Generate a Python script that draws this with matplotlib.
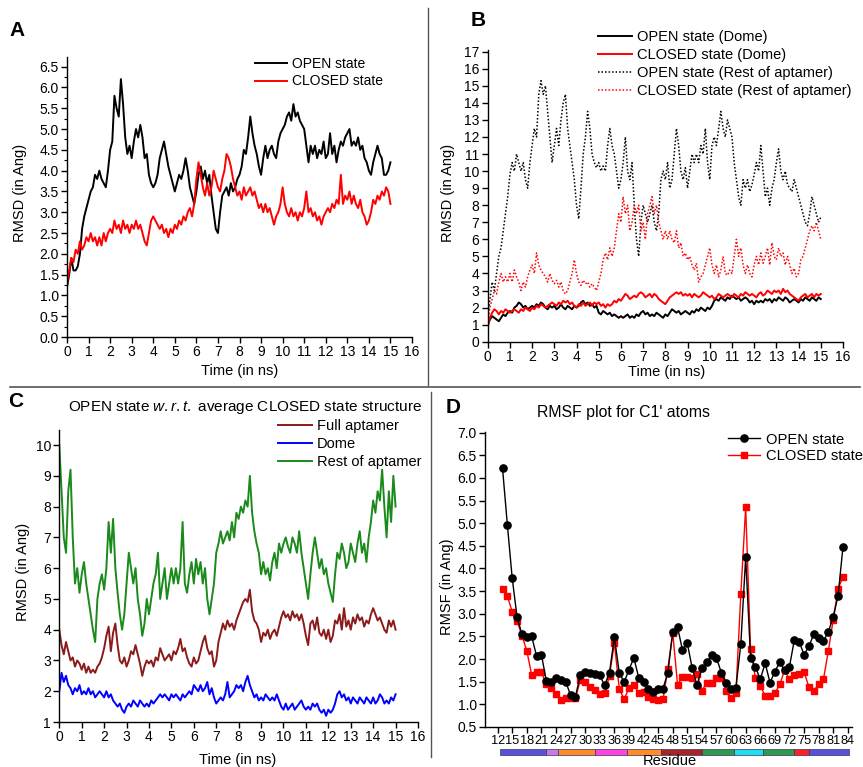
import matplotlib
matplotlib.use("Agg")
import matplotlib.pyplot as plt
from matplotlib.patches import Rectangle
from matplotlib.lines import Line2D
import numpy as np

# ---- data ----
TIME_NS = np.round(np.arange(0, 15.05, 0.1), 1)   # 151 samples, 0..15 ns

A_OPEN = [
    1.2, 1.5, 1.9, 1.6, 1.6, 1.7, 2.0, 2.6, 2.9, 3.1,
    3.3, 3.5, 3.6, 3.9, 3.8, 4.0, 3.8, 3.7, 3.6, 4.0,
    4.5, 4.7, 5.8, 5.5, 5.3, 6.2, 5.6, 4.8, 4.4, 4.6,
    4.3, 4.7, 5.0, 4.8, 5.1, 4.8, 4.3, 4.4, 3.9, 3.7,
    3.6, 3.7, 3.9, 4.3, 4.5, 4.7, 4.4, 4.1, 3.9, 3.7,
    3.5, 3.7, 3.9, 3.8, 4.0, 4.3, 4.0, 3.6, 3.4, 3.2,
    3.5, 3.9, 4.1, 3.8, 4.0, 3.7, 3.9, 3.4, 3.0, 2.6,
    2.5, 3.0, 3.4, 3.5, 3.6, 3.4, 3.7, 3.5, 3.6, 3.8,
    3.9, 4.1, 4.5, 4.4, 4.8, 5.3, 4.9, 4.6, 4.4, 4.1,
    3.9, 4.3, 4.6, 4.3, 4.5, 4.6, 4.4, 4.3, 4.7, 4.9,
    5.0, 5.1, 5.3, 5.4, 5.2, 5.6, 5.3, 5.4, 5.2, 5.1,
    5.0, 4.6, 4.2, 4.6, 4.4, 4.6, 4.3, 4.5, 4.4, 4.7,
    4.3, 4.4, 4.9, 4.4, 4.6, 4.2, 4.5, 4.7, 4.6, 4.8,
    4.9, 5.0, 4.6, 4.7, 4.6, 4.8, 4.5, 4.6, 4.3, 4.2,
    4.0, 3.9, 4.2, 4.4, 4.6, 4.4, 4.3, 3.9, 3.9, 4.0,
    4.2,
]
A_CLOSED = [
    1.3, 1.6, 1.9, 1.8, 2.1, 2.0, 2.3, 2.1, 2.2, 2.4,
    2.3, 2.5, 2.3, 2.4, 2.2, 2.4, 2.2, 2.5, 2.3, 2.5,
    2.6, 2.5, 2.8, 2.6, 2.7, 2.5, 2.8, 2.6, 2.7, 2.5,
    2.7, 2.6, 2.8, 2.6, 2.7, 2.5, 2.3, 2.2, 2.5, 2.8,
    2.9, 2.8, 2.7, 2.6, 2.7, 2.5, 2.6, 2.4, 2.6, 2.5,
    2.7, 2.6, 2.8, 2.7, 2.9, 2.8, 3.0, 3.1, 2.9, 3.2,
    3.8, 4.2, 3.9, 3.6, 3.4, 3.7, 3.4, 3.6, 4.0, 3.8,
    3.6, 3.5, 3.8, 4.0, 4.4, 4.3, 4.1, 3.8, 3.6, 3.4,
    3.5, 3.3, 3.6, 3.4, 3.5, 3.6, 3.4, 3.5, 3.3, 3.1,
    3.2, 3.0, 3.2, 3.0, 3.1, 2.9, 2.7, 2.9, 3.0, 3.2,
    3.6, 3.2, 3.0, 2.9, 3.1, 2.9, 3.0, 2.8, 3.0, 2.9,
    3.1, 3.5, 3.0, 3.1, 2.9, 3.0, 2.8, 2.9, 2.7, 2.9,
    3.0, 3.1, 3.0, 3.2, 3.1, 3.3, 3.2, 3.9, 3.2, 3.4,
    3.3, 3.5, 3.2, 3.4, 3.2, 3.1, 3.3, 3.0, 2.9, 2.7,
    2.8, 3.0, 3.3, 3.2, 3.4, 3.3, 3.5, 3.4, 3.6, 3.5,
    3.2,
]

B_OPEN_DOME = [
    1.0, 1.3, 1.5, 1.4, 1.3, 1.2, 1.4, 1.6, 1.5, 1.7,
    1.8, 1.7, 2.0, 2.1, 2.3, 2.2, 2.0, 2.1, 1.9, 2.0,
    2.1, 2.0, 2.2, 2.1, 2.3, 2.2, 2.0, 1.9, 2.1, 2.0,
    2.1, 1.9, 2.0, 2.2, 2.0, 1.9, 2.1, 2.0, 1.9, 2.1,
    2.0, 2.1, 2.3, 2.4, 2.2, 2.3, 2.1, 2.2, 2.0, 2.1,
    1.7, 1.6, 1.8, 1.7, 1.6, 1.7, 1.5, 1.6, 1.5, 1.4,
    1.5, 1.4, 1.5, 1.6, 1.4, 1.5, 1.4, 1.6, 1.5, 1.7,
    1.8, 1.6, 1.7, 1.5, 1.6, 1.5, 1.7, 1.6, 1.5, 1.4,
    1.6, 1.5, 1.7, 1.9, 1.8, 1.7, 1.8, 1.6, 1.7, 1.8,
    1.7, 1.6, 1.8, 1.7, 1.9, 1.8, 2.0, 1.9, 1.8, 2.0,
    1.9, 2.1, 2.4, 2.5, 2.4, 2.6, 2.5, 2.4, 2.6, 2.5,
    2.7, 2.6, 2.5, 2.6, 2.4, 2.5, 2.6, 2.5, 2.3, 2.4,
    2.2, 2.4, 2.3, 2.4, 2.3, 2.5, 2.4, 2.5, 2.3, 2.5,
    2.4, 2.6, 2.5, 2.4, 2.6, 2.5, 2.3, 2.4, 2.5, 2.4,
    2.3, 2.5, 2.4, 2.6, 2.5, 2.4, 2.6, 2.5, 2.4, 2.6,
    2.5,
]
B_CLOSED_DOME = [
    0.8, 1.4, 1.7, 1.9, 1.8, 1.6, 1.8, 1.7, 1.9, 1.8,
    1.7, 1.8, 1.9, 1.8, 1.7, 1.9, 1.8, 2.0, 1.9, 1.8,
    2.0, 1.9, 2.1, 2.0, 2.2, 2.1, 2.0, 2.1, 2.2, 2.3,
    2.2, 2.1, 2.3, 2.2, 2.4, 2.3, 2.4, 2.2, 2.3, 2.1,
    2.0, 2.2, 2.1, 2.3, 2.1, 2.2, 2.3, 2.1, 2.3, 2.2,
    2.3, 2.1, 2.2, 2.0, 2.2, 2.1, 2.2, 2.4, 2.3, 2.5,
    2.4, 2.6, 2.8, 2.7, 2.5, 2.6, 2.7, 2.6, 2.8, 2.9,
    2.8, 2.6, 2.7, 2.8, 2.6, 2.8, 2.7, 2.5, 2.4, 2.3,
    2.2, 2.4, 2.6, 2.7, 2.8, 2.9, 2.8, 2.9, 2.7, 2.8,
    2.7, 2.8, 2.6, 2.8, 2.7, 2.6, 2.7, 2.9, 2.8, 2.7,
    2.6, 2.7, 2.5, 2.6, 2.8, 2.7, 2.6, 2.7, 2.8, 2.7,
    2.6, 2.8, 2.7, 2.6, 2.8, 2.7, 2.9, 2.8, 2.7, 2.8,
    2.7, 2.6, 2.8, 2.9, 2.7, 2.8, 3.0, 2.9, 2.8, 3.0,
    2.9, 3.0, 2.8, 3.1, 2.9, 3.0, 2.8, 2.7, 2.6, 2.5,
    2.4, 2.6, 2.7, 2.8, 2.6, 2.7, 2.8, 2.6, 2.8, 2.7,
    2.8,
]
B_OPEN_REST = [
    1.5, 2.5, 3.5, 3.0, 4.0, 5.0, 5.5, 6.5, 7.5, 8.5,
    9.8, 10.5, 10.0, 11.0, 10.5, 10.0, 10.5, 9.5, 9.0, 10.5,
    11.5, 12.5, 12.0, 14.5, 15.3, 14.5, 15.0, 13.5, 12.0, 10.5,
    11.5, 12.5, 11.5, 13.0, 14.0, 14.5, 12.5, 11.5, 10.5, 9.5,
    8.0, 7.2, 9.0, 11.0, 12.0, 13.5, 12.5, 11.0, 10.5, 10.2,
    10.5, 10.0, 10.3, 10.0, 11.5, 12.5, 11.5, 11.0, 10.0, 9.0,
    9.5, 10.5, 12.0, 10.0, 9.5, 10.5, 8.0, 6.0, 5.0, 7.0,
    8.0, 7.5, 7.0, 7.5, 8.0, 7.0, 6.5, 7.5, 9.5, 10.0,
    9.5, 10.5, 9.0, 9.5, 11.0, 12.5, 11.5, 10.0, 9.5, 10.2,
    9.0, 10.0, 11.0, 10.5, 11.0, 10.5, 11.5, 11.0, 12.5, 10.5,
    9.5, 11.5, 12.0, 11.5, 12.5, 13.5, 12.5, 12.0, 13.0, 12.5,
    12.0, 10.5, 9.5, 8.5, 8.0, 9.5, 9.0, 9.5, 8.8, 9.2,
    9.8, 10.5, 10.0, 11.5, 10.0, 8.5, 9.0, 8.0, 9.0, 9.5,
    10.5, 11.3, 10.0, 9.5, 10.0, 9.2, 9.0, 8.8, 9.5, 9.0,
    8.5, 8.0, 7.5, 7.0, 6.8, 7.5, 8.5, 8.0, 7.5, 7.0,
    7.3,
]
B_CLOSED_REST = [
    1.0, 2.0, 2.5, 3.0, 2.8, 3.5, 4.0, 3.5, 3.8, 3.5,
    4.0, 3.5, 4.2, 3.8, 3.5, 3.0, 3.5, 3.2, 3.8, 4.2,
    4.5, 4.0, 5.2, 4.5, 4.2, 4.0, 3.8, 3.5, 4.0, 3.6,
    3.4, 3.6, 3.2, 3.5, 3.0, 2.8, 3.0, 3.5, 4.0, 4.8,
    4.0, 3.5, 3.3, 3.6, 3.4, 3.5, 3.2, 3.4, 3.2, 3.0,
    3.5, 4.0, 4.8, 5.2, 4.8, 5.5, 5.0, 5.5, 6.5, 7.5,
    7.0, 8.5, 7.5, 8.0, 6.5, 7.0, 8.0, 7.5, 8.0, 6.5,
    7.0, 6.0, 7.5, 8.0, 8.5, 7.5, 8.0, 7.0, 6.5, 6.0,
    6.5, 6.0, 6.5, 6.0, 5.8, 6.5, 5.5, 5.8, 5.0, 5.2,
    4.8, 5.0, 4.5, 4.2, 4.6, 3.5, 3.8, 4.0, 4.5, 5.0,
    5.5, 4.5, 4.0, 4.5, 3.8, 4.2, 5.0, 4.0, 3.9, 4.2,
    4.0, 5.0, 6.0, 5.0, 5.5, 4.5, 4.0, 4.5, 4.0, 3.8,
    4.5, 5.0, 4.5, 5.2, 4.6, 5.0, 5.5, 4.5, 5.8, 5.0,
    4.8, 5.5, 5.0, 5.2, 4.5, 5.0, 4.5, 4.0, 4.3, 3.8,
    4.0, 4.8, 5.0, 5.5, 6.0, 6.5, 6.8, 6.5, 7.0, 6.5,
    6.0,
]

C_FULL = [
    4.0, 3.5, 3.2, 3.6, 3.3, 3.0, 3.1, 2.8, 3.0, 2.9,
    2.7, 2.9, 2.6, 2.8, 2.6, 2.7, 2.6, 2.8, 2.9, 3.1,
    3.4, 3.8, 4.1, 3.3, 3.9, 4.2, 3.5, 3.0, 2.9, 3.1,
    2.8, 3.0, 3.3, 3.2, 3.5, 3.2, 2.9, 2.5, 2.8, 3.0,
    2.9, 3.0, 2.8, 3.1, 3.0, 3.4, 3.2, 3.0, 3.1, 3.2,
    3.0, 3.3, 3.2, 3.4, 3.7, 3.3, 3.4, 3.1, 2.9, 2.8,
    3.1, 2.9, 3.0, 3.3, 3.6, 3.8, 3.4, 3.2, 3.3, 2.8,
    3.0, 3.6, 3.9, 4.2, 4.0, 4.3, 4.1, 4.2, 4.0, 4.3,
    4.5, 4.7, 4.9, 5.0, 4.9, 5.3, 4.6, 4.3, 4.2, 4.0,
    3.6, 3.9, 3.8, 4.0, 3.7, 3.9, 4.0, 3.8, 4.1, 4.4,
    4.6, 4.4, 4.5, 4.3, 4.6, 4.4, 4.5, 4.3, 4.5, 4.2,
    3.8, 3.5, 4.2, 4.3, 4.0, 4.4, 3.9, 3.8, 4.0, 3.7,
    4.0, 3.6, 3.8, 4.3, 4.2, 4.5, 4.0, 4.7, 4.1, 4.3,
    4.0, 4.4, 4.2, 4.5, 4.3, 4.4, 4.1, 4.3, 4.2, 4.5,
    4.7, 4.5, 4.3, 4.4, 4.2, 4.0, 3.9, 4.3, 4.1, 4.3,
    4.0,
]
C_DOME = [
    2.0, 2.6, 2.3, 2.5, 2.2, 2.1, 1.9, 2.1, 2.0, 2.2,
    1.9, 2.0, 1.9, 2.1, 1.9, 2.0, 1.8, 1.9, 2.0, 1.9,
    1.8, 2.0, 1.8, 1.9, 1.7, 1.6, 1.5, 1.6, 1.4, 1.3,
    1.5, 1.6, 1.5, 1.7, 1.6, 1.5, 1.7, 1.6, 1.5, 1.6,
    1.5, 1.7, 1.6, 1.7, 1.8, 1.9, 1.8, 1.9, 1.8, 1.7,
    1.9, 1.8, 1.9, 1.8, 1.7, 1.9, 1.8, 1.9, 2.0, 1.9,
    2.2, 2.1, 2.0, 2.2, 2.0, 2.1, 2.3, 1.9, 2.1, 1.8,
    1.6, 1.7, 1.8, 1.7, 1.9, 2.3, 1.8, 1.9, 2.0, 2.2,
    2.1, 2.2, 2.0, 2.3, 2.5, 2.2, 2.0, 1.8, 1.9, 1.7,
    1.8, 1.7, 1.9, 1.8, 1.7, 1.8, 1.7, 1.9, 1.7, 1.5,
    1.4, 1.6, 1.4, 1.5, 1.6, 1.4, 1.5, 1.6, 1.7, 1.5,
    1.4, 1.5, 1.4, 1.6, 1.5, 1.6, 1.4, 1.3, 1.4, 1.2,
    1.4, 1.3, 1.4, 1.6, 1.9, 2.0, 1.8, 1.9, 1.7, 1.8,
    1.6, 1.8, 1.7, 1.6, 1.8, 1.7, 1.6, 1.8, 1.7, 1.6,
    1.8, 1.6, 1.7, 1.9, 1.8, 1.6, 1.7, 1.6, 1.8, 1.7,
    1.9,
]
C_REST = [
    10.0, 8.5, 7.0, 6.5, 8.5, 9.2, 7.0, 5.5, 6.0, 5.2,
    5.8, 6.2, 5.5, 5.0, 4.5, 4.0, 3.6, 5.0, 5.5, 5.8,
    5.3, 6.0, 7.5, 6.5, 7.6, 6.0, 5.2, 4.5, 4.0, 4.5,
    5.5, 6.5, 6.0, 5.5, 6.0, 5.0, 4.5, 3.8, 4.2, 5.0,
    4.5, 5.0, 5.5, 5.8, 6.5, 5.0, 5.5, 6.0, 5.0, 5.5,
    6.0, 5.5, 6.0, 5.5, 6.0, 7.5, 5.5, 5.2, 5.8, 6.2,
    5.5, 6.3, 5.8, 6.2, 5.5, 6.0, 5.0, 4.5, 5.0, 5.5,
    6.5, 6.8, 7.2, 6.8, 7.0, 7.2, 6.9, 7.5, 7.0, 7.8,
    7.6, 8.0, 7.8, 8.2, 8.0, 9.0, 7.8, 7.2, 6.8, 6.5,
    5.8, 6.2, 5.8, 6.0, 5.6, 6.2, 6.5, 6.0, 6.8, 6.5,
    6.8, 7.0, 6.7, 6.5, 7.0, 6.8, 6.5, 7.2, 6.5, 6.0,
    5.5, 5.0, 5.8, 6.5, 7.0, 6.5, 6.0, 6.3, 5.8, 6.0,
    5.5, 5.2, 4.9, 5.8, 6.5, 6.3, 6.8, 6.5, 6.0, 6.2,
    6.8, 6.5, 6.2, 6.8, 7.2, 6.5, 6.8, 6.2, 7.0, 7.5,
    8.2, 7.8, 8.5, 8.2, 9.2, 8.0, 7.0, 8.5, 7.5, 9.0,
    8.0,
]

RESIDUES = list(range(13, 84))
D_OPEN = [
    6.22, 4.96, 3.78, 2.92, 2.55, 2.48, 2.50, 2.07, 2.10, 1.52,
    1.49, 1.59, 1.54, 1.50, 1.20, 1.17, 1.65, 1.72, 1.70, 1.68,
    1.64, 1.42, 1.70, 2.49, 1.70, 1.49, 1.76, 2.03, 1.59, 1.50,
    1.35, 1.28, 1.33, 1.35, 1.70, 2.60, 2.70, 2.20, 2.35, 1.80,
    1.42, 1.80, 1.93, 2.08, 2.02, 1.70, 1.47, 1.35, 1.37, 2.33,
    4.25, 2.03, 1.83, 1.55, 1.91, 1.48, 1.72, 1.93, 1.75, 1.83,
    2.42, 2.38, 2.10, 2.28, 2.55, 2.47, 2.40, 2.60, 2.93, 3.40,
    4.47,
]
D_CLOSED = [
    3.54, 3.39, 3.04, 2.84, 2.52, 2.18, 1.65, 1.72, 1.71, 1.44,
    1.37, 1.22, 1.10, 1.14, 1.13, 1.13, 1.54, 1.49, 1.38, 1.32,
    1.22, 1.24, 1.63, 2.36, 1.35, 1.11, 1.36, 1.42, 1.26, 1.28,
    1.17, 1.11, 1.10, 1.11, 1.79, 2.58, 1.43, 1.61, 1.61, 1.59,
    1.67, 1.30, 1.48, 1.48, 1.59, 1.58, 1.30, 1.13, 1.26, 3.43,
    5.35, 2.23, 1.58, 1.41, 1.19, 1.19, 1.24, 1.44, 1.75, 1.56,
    1.64, 1.68, 1.71, 1.39, 1.30, 1.44, 1.56, 2.18, 2.87, 3.55,
    3.81,
]
D_XTICKS = list(range(12, 85, 3))

# secondary-structure bar under the residue axis
SEG_START = [12.5, 22.0, 24.5, 32.0, 38.5, 45.5, 54.0, 60.5, 66.5, 73.0, 76.0]
SEG_END = [22.0, 24.5, 32.0, 38.5, 45.5, 54.0, 60.5, 66.5, 73.0, 76.0, 84.3]
SEG_COLOR = ["#5a52d6", "#cc77ee", "#ff8c26", "#ff44dd", "#ff8c26", "#a82424",
             "#2e9a4a", "#22ddee", "#2e9a4a", "#ff2020", "#5a52d6"]

# ---- style ----
W, H = 863, 767
plt.rcParams["font.family"] = ["Liberation Sans", "DejaVu Sans"]
plt.rcParams["mathtext.fontset"] = "custom"
plt.rcParams["mathtext.rm"] = "Liberation Sans"
plt.rcParams["mathtext.it"] = "Liberation Sans:italic"

C_RED = "#ff0000"
C_BROWN = "#8b1a1a"
C_BLUE = "#0000ff"
C_GREEN = "#1a8a1a"
C_SEP = "#555555"
LW = 1.4


def fx(x):
    return x / W


def fy(y):
    return 1 - y / H


def box(l, t, r, b):
    return [fx(l), fy(b), (r - l) / W, (b - t) / H]


fig = plt.figure(figsize=(W / 100, H / 100), dpi=100)


def style(ax):
    for s in ("top", "right"):
        ax.spines[s].set_visible(False)
    for s in ("left", "bottom"):
        ax.spines[s].set_linewidth(1.0)
    ax.tick_params(direction="out", length=4, width=1, labelsize=10, pad=2)
    ax.tick_params(which="minor", direction="out", length=2.5, width=0.8)


def labels(ax, xlab, xpos, ylab, ypos):
    ax.set_xlabel(xlab, fontsize=10.5, va="center", ha="center")
    ax.xaxis.set_label_coords(fx(xpos[0]), fy(xpos[1]), transform=fig.transFigure)
    ax.set_ylabel(ylab, fontsize=10.5, va="center", ha="center")
    ax.yaxis.set_label_coords(fx(ypos[0]), fy(ypos[1]), transform=fig.transFigure)


def legend(ax, x0, ytop, size, hl, spacing, handles=None, names=None):
    args = (handles, names) if handles else ()
    ax.legend(*args, loc="upper left", bbox_to_anchor=(fx(x0), fy(ytop)),
              bbox_transform=fig.transFigure, frameon=False, fontsize=size,
              handlelength=hl, handletextpad=0.35, labelspacing=spacing,
              borderpad=0, borderaxespad=0)


# ---- A ----
axA = fig.add_axes(box(67, 56.7, 412, 337))
axA.plot(TIME_NS, A_OPEN, color="black", lw=LW, label="OPEN state")
axA.plot(TIME_NS, A_CLOSED, color=C_RED, lw=LW, label="CLOSED state")
axA.set_xlim(0, 16)
axA.set_ylim(0, 6.74)
axA.set_xticks(range(0, 17))
axA.set_yticks(np.arange(0, 6.6, 0.5))
axA.set_yticks(np.arange(0, 6.74, 0.25), minor=True)
axA.yaxis.set_major_formatter(matplotlib.ticker.FormatStrFormatter("%.1f"))
style(axA)
labels(axA, "Time (in ns)", (240, 371), "RMSD (in Ang)", (20, 193))
legend(axA, 255, 56.5, 10, 2.3, 0.28)

# ---- B ----
axB = fig.add_axes(box(487.7, 50, 843, 341.7))
axB.plot(TIME_NS, B_OPEN_DOME, color="black", lw=LW, label="OPEN state (Dome)")
axB.plot(TIME_NS, B_CLOSED_DOME, color=C_RED, lw=LW, label="CLOSED state (Dome)")
axB.plot(TIME_NS, B_OPEN_REST, color="black", lw=1.1, ls=(0, (1, 1.3)),
         label="OPEN state (Rest of aptamer)")
axB.plot(TIME_NS, B_CLOSED_REST, color=C_RED, lw=1.1, ls=(0, (1, 1.3)),
         label="CLOSED state (Rest of aptamer)")
axB.set_xlim(0, 16)
axB.set_ylim(0, 17.1)
axB.set_xticks(range(0, 17))
axB.set_yticks(range(0, 18))
style(axB)
labels(axB, "Time (in ns)", (667, 372), "RMSD (in Ang)", (448, 193))
legend(axB, 598, 30.5, 10.5, 2.3, 0.27)

# ---- C ----
axC = fig.add_axes(box(59.3, 430, 418, 722))
axC.plot(TIME_NS, C_FULL, color=C_BROWN, lw=LW, label="Full aptamer")
axC.plot(TIME_NS, C_DOME, color=C_BLUE, lw=LW, label="Dome")
axC.plot(TIME_NS, C_REST, color=C_GREEN, lw=LW, label="Rest of aptamer")
axC.set_xlim(0, 16)
axC.set_ylim(1, 10.49)
axC.set_xticks(range(0, 17))
axC.set_yticks(range(1, 11))
style(axC)
labels(axC, "Time (in ns)", (238, 760), "RMSD (in Ang)", (23, 572))
legend(axC, 278, 419, 10.5, 2.3, 0.27)
fig.text(fx(245), fy(408), "OPEN state $\\mathit{w.r.t.}$ average CLOSED state structure",
         fontsize=11, ha="center", va="center")

# ---- D ----
axD = fig.add_axes(box(485, 431.7, 851.7, 727))
axD.plot(RESIDUES, D_CLOSED, color=C_RED, lw=1.0, marker="s", ms=4.2,
         label="CLOSED state", zorder=2)
axD.plot(RESIDUES, D_OPEN, color="black", lw=1.0, marker="o", ms=5.2,
         label="OPEN state", zorder=3)
axD.set_xlim(9.4, 84.8)
axD.set_ylim(0.5, 7.02)
axD.set_xticks(D_XTICKS)
axD.set_yticks(np.arange(0.5, 7.01, 0.5))
axD.yaxis.set_major_formatter(matplotlib.ticker.FormatStrFormatter("%.1f"))
style(axD)
axD.tick_params(axis="x", labelsize=9.2, pad=1.5)
labels(axD, "Residue", (670, 761), "RMSF (in Ang)", (447, 587))
h, l = axD.get_legend_handles_labels()
legend(axD, 728, 432.5, 10.6, 2.2, 0.2, h[::-1], l[::-1])
fig.text(fx(623), fy(413), "RMSF plot for C1' atoms", fontsize=11.4,
         ha="center", va="center")
tr = axD.get_xaxis_transform()
for s, e, c in zip(SEG_START, SEG_END, SEG_COLOR):
    axD.add_patch(Rectangle((s, -0.095), e - s, 0.022, transform=tr,
                            facecolor=c, edgecolor="#333366", lw=0.5,
                            clip_on=False))

# ---- panel letters and separators ----
for txt, x, y in (("A", 17, 30), ("B", 478, 21), ("C", 16, 402), ("D", 453, 407)):
    fig.text(fx(x), fy(y), txt, fontsize=15, fontweight="bold",
             ha="center", va="center")

fig.add_artist(Line2D([fx(10), fx(860)], [fy(387), fy(387)],
                      transform=fig.transFigure, color=C_SEP, lw=1.2))
fig.add_artist(Line2D([fx(428), fx(428)], [fy(8), fy(385)],
                      transform=fig.transFigure, color=C_SEP, lw=1.0))
fig.add_artist(Line2D([fx(431), fx(431)], [fy(392), fy(757)],
                      transform=fig.transFigure, color=C_SEP, lw=1.0))

fig.savefig("out.png", dpi=100)
